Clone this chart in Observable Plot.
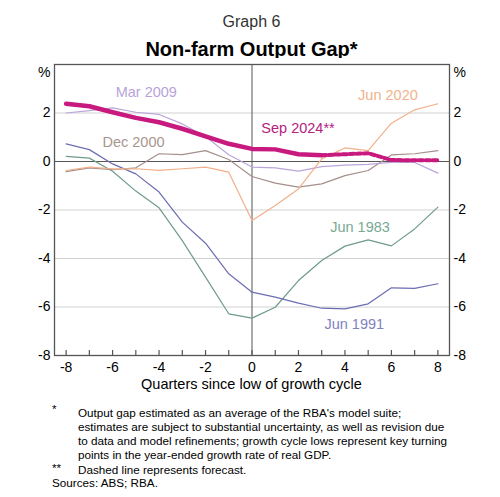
<!DOCTYPE html>
<html>
<head>
<meta charset="utf-8">
<script src="https://cdn.jsdelivr.net/npm/d3@7"></script>
<script src="https://cdn.jsdelivr.net/npm/@observablehq/plot@0.6"></script>
<style>
  body { margin: 0; background: #fff; }
  #wrap { position: relative; width: 500px; height: 497px; font-family: "Liberation Sans", Arial, sans-serif; color: #000; }
  .abs { position: absolute; }
  #kicker { top: 12px; left: 0; width: 503px; text-align: center; font-size: 16px; line-height: 19px; color: #333; }
  #title { top: 38px; left: 0; width: 503px; text-align: center; font-size: 20px; line-height: 23px; font-weight: bold; }
  #chart { top: 58px; left: 0; }
  #xlabel { top: 376px; left: 0; width: 503px; text-align: center; font-size: 14.5px; line-height: 16px; }
  .note { font-size: 11.7px; line-height: 14px; }
</style>
</head>
<body>
<div id="wrap">
  <div id="kicker" class="abs">Graph 6</div>
  <div id="title" class="abs">Non-farm Output Gap*</div>
  <div id="chart" class="abs"></div>
  <div id="xlabel" class="abs">Quarters since low of growth cycle</div>
  <div class="abs note" style="top:402px;left:52px;">*</div>
  <div class="abs note" style="top:406px;left:78px;width:400px;">Output gap estimated as an average of the RBA's model suite;<br>estimates are subject to substantial uncertainty, as well as revision due<br>to data and model refinements; growth cycle lows represent key turning<br>points in the year-ended growth rate of real GDP.</div>
  <div class="abs note" style="top:461px;left:52px;">**</div>
  <div class="abs note" style="top:463px;left:78px;">Dashed line represents forecast.</div>
  <div class="abs note" style="top:476px;left:52px;">Sources: ABS; RBA.</div>
</div>
<script>
// quarters since low of growth cycle
const quarters = [-8, -7, -6, -5, -4, -3, -2, -1, 0, 1, 2, 3, 4, 5, 6, 7, 8]
// output gap, per cent
const jun1983 = [0.21, 0.14, -0.40, -1.22, -1.91, -3.26, -4.77, -6.28, -6.46, -6.01, -4.91, -4.08, -3.49, -3.23, -3.48, -2.78, -1.88]
const jun1991 = [0.73, 0.49, -0.10, -0.51, -1.26, -2.50, -3.37, -4.63, -5.39, -5.59, -5.84, -6.05, -6.08, -5.87, -5.21, -5.23, -5.04]
const dec2000 = [-0.42, -0.26, -0.34, -0.26, 0.32, 0.28, 0.45, 0.08, -0.62, -0.89, -1.06, -0.92, -0.58, -0.37, 0.27, 0.32, 0.45]
const mar2009 = [2.00, 2.10, 2.21, 2.03, 1.94, 1.55, 1.03, 0.28, -0.23, -0.26, -0.40, -0.21, -0.15, -0.12, -0.04, -0.04, -0.48]
const jun2020 = [-0.37, -0.23, -0.30, -0.30, -0.37, -0.30, -0.23, -0.44, -2.43, -1.81, -1.13, 0.11, 0.56, 0.45, 1.58, 2.13, 2.38]
const sep2024 = [2.38, 2.28, 2.03, 1.80, 1.62, 1.35, 1.04, 0.73, 0.52, 0.50, 0.30, 0.26, 0.30, 0.34, 0.06, 0.05, 0.05]
const forecastFrom = 3

const yTicks = [-8, -6, -4, -2, 0, 2]
const xLabels = [-8, -6, -4, -2, 0, 2, 4, 6, 8]

const seriesNames = ["Jun 1983", "Jun 1991", "Dec 2000", "Mar 2009", "Jun 2020"]
const seriesValues = [jun1983, jun1991, dec2000, mar2009, jun2020]
const seriesColors = ["#6f9c88", "#6b6db2", "#a3908a", "#bba5db", "#f2b08a"]

// label positions (data units) and colours
const labels = [
  {name: "Mar 2009", x: -4.55, y: 2.85, color: "#b9a3d9"},
  {name: "Dec 2000", x: -5.1, y: 0.78, color: "#a8968e"},
  {name: "Sep 2024**", x: 1.98, y: 1.36, color: "#b3237e"},
  {name: "Jun 2020", x: 5.85, y: 2.72, color: "#f0b38c"},
  {name: "Jun 1983", x: 4.65, y: -2.72, color: "#7aa893"},
  {name: "Jun 1991", x: 4.4, y: -6.72, color: "#8082c0"}
]

// long table for the thin lines
const thin = seriesNames.flatMap((name, k) =>
  quarters.map((q, i) => ({series: name, q, v: seriesValues[k][i]})))
const latest = quarters.map((q, i) => ({q, v: sep2024[i]}))

const fmt = d => String(d)  // plain hyphen minus, as in the original

let chart = Plot.plot({
  width: 500,
  height: 340,
  marginTop: 6,
  marginRight: 51,
  marginBottom: 43,
  marginLeft: 54,
  style: {fontFamily: "'Liberation Sans', Arial, sans-serif", fontSize: "14px", background: "#fff", color: "#000"},
  x: {domain: [-8.5, 8.5]},
  y: {domain: [-8, 4]},
  color: {domain: seriesNames, range: seriesColors},
  marks: [
    Plot.ruleY([-6, -4, -2, 2], {stroke: "#d2d2d2", strokeWidth: 1}),
    Plot.ruleY([0], {stroke: "#555", strokeWidth: 1}),
    Plot.ruleX([0], {stroke: "#555", strokeWidth: 1}),
    Plot.line(thin, {x: "q", y: "v", z: "series", stroke: "series", strokeWidth: 1.2}),
    Plot.line(latest.filter(d => d.q <= forecastFrom), {x: "q", y: "v", stroke: "#c8197f", strokeWidth: 4.5}),
    Plot.line(latest.filter(d => d.q >= forecastFrom), {x: "q", y: "v", stroke: "#c8197f", strokeWidth: 4, strokeDasharray: "4.5,2.5"}),
    Plot.text(labels, {x: "x", y: "y", text: "name", fill: "color", fontSize: 14.5}),
    Plot.frame({stroke: "#555", strokeWidth: 1.3}),
    // short inward ticks on the bottom edge, one per quarter
    Plot.ruleX(quarters, {x: d => d, y1: -8, y2: -8, insetTop: -5, stroke: "#555", strokeWidth: 1.2}),
    Plot.axisX(xLabels, {tickSize: 0, tickPadding: 7, label: null, fontSize: 14, tickFormat: fmt}),
    Plot.axisY(yTicks, {anchor: "left", tickSize: 0, tickPadding: 4, label: null, fontSize: 14, tickFormat: fmt}),
    Plot.axisY(yTicks, {anchor: "right", tickSize: 0, tickPadding: 4, label: null, fontSize: 14, tickFormat: fmt}),
    Plot.axisY([4], {anchor: "left", tickSize: 0, tickPadding: 4, label: null, fontSize: 14, dy: 8, tickFormat: () => "%"}),
    Plot.axisY([4], {anchor: "right", tickSize: 0, tickPadding: 4, label: null, fontSize: 14, dy: 8, tickFormat: () => "%"})
  ]
})

d3.select('#chart').append(() => chart)
</script>
</body>
</html>
